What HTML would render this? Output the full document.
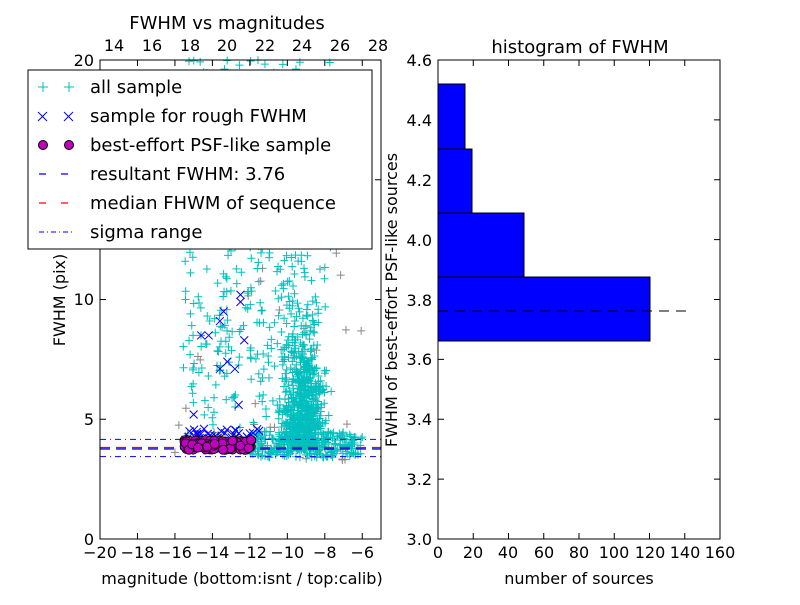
<!DOCTYPE html>
<html><head><meta charset="utf-8"><style>
body{margin:0;background:#fff}
svg{font-family:"DejaVu Sans","Liberation Sans",sans-serif}
</style></head><body>
<svg width="800" height="600" viewBox="0 0 800 600" xmlns="http://www.w3.org/2000/svg">
<rect width="800" height="600" fill="#fff"/>
<g id="pts"></g>
<rect x="100" y="60" width="281" height="479" fill="none" stroke="#000"/>
<g id="ticks"></g>
<text x="227" y="29" text-anchor="middle" font-size="18">FWHM vs magnitudes</text>
<g font-size="16" text-anchor="middle">
<text x="100" y="558">−20</text><text x="137.5" y="558">−18</text><text x="175" y="558">−16</text><text x="212.4" y="558">−14</text><text x="250" y="558">−12</text><text x="287.3" y="558">−10</text><text x="324.8" y="558">−8</text><text x="362.3" y="558">−6</text>
<text x="242" y="584">magnitude (bottom:isnt / top:calib)</text>
<text x="114" y="51">14</text><text x="152" y="51">16</text><text x="190" y="51">18</text><text x="227" y="51">20</text><text x="265" y="51">22</text><text x="302" y="51">24</text><text x="340" y="51">26</text><text x="378" y="51">28</text>
</g>
<g font-size="16" text-anchor="end">
<text x="94" y="545">0</text><text x="94" y="425">5</text><text x="94" y="305">10</text><text x="94" y="66">20</text>
</g>
<text transform="translate(65,300) rotate(-90)" font-size="16" text-anchor="middle">FWHM (pix)</text>
<rect x="28" y="70" width="344" height="179" fill="#fff" stroke="#000"/>
<g font-size="18">
<text x="90" y="93">all sample</text>
<text x="90" y="122">sample for rough FWHM</text>
<text x="90" y="151">best-effort PSF-like sample</text>
<text x="90" y="180">resultant FWHM: 3.76</text>
<text x="90" y="209">median FHWM of sequence</text>
<text x="90" y="238">sigma range</text>
</g>
<g stroke="#00bfbf"><path d="M38 87h10M43 82v10M64 87h10M69 82v10"/></g>
<g stroke="#0000ff"><path d="M38 112l9 9M47 112l-9 9M64 112l9 9M73 112l-9 9"/></g>
<circle cx="43" cy="145" r="4.5" fill="#bf00bf" stroke="#000"/><circle cx="69" cy="145" r="4.5" fill="#bf00bf" stroke="#000"/>
<line x1="39" y1="174" x2="75" y2="174" stroke="#0000ff" stroke-width="1.2" stroke-dasharray="7 15"/>
<line x1="39" y1="203" x2="75" y2="203" stroke="#ff0000" stroke-width="1.2" stroke-dasharray="7 15"/>
<line x1="39" y1="232" x2="75" y2="232" stroke="#0000ff" stroke-dasharray="5 3 1 3"/>
<text x="580" y="53" font-size="18" text-anchor="middle">histogram of FWHM</text>
<g fill="#0000ff" stroke="#000">
<rect x="438" y="84" width="27" height="65"/>
<rect x="438" y="149" width="34" height="64"/>
<rect x="438" y="213" width="86" height="64"/>
<rect x="438" y="277" width="212" height="64"/>
</g>
<line x1="438" y1="311" x2="693" y2="311" stroke="#000" stroke-dasharray="10 7"/>
<rect x="438" y="60" width="282" height="479" fill="none" stroke="#000"/>
<g font-size="16" text-anchor="middle">
<text x="438" y="558">0</text><text x="473" y="558">20</text><text x="508" y="558">40</text><text x="544" y="558">60</text><text x="579" y="558">80</text><text x="614" y="558">100</text><text x="650" y="558">120</text><text x="685" y="558">140</text><text x="720" y="558">160</text>
<text x="579" y="584">number of sources</text>
</g>
<g font-size="16" text-anchor="end">
<text x="432" y="66">4.6</text><text x="432" y="126">4.4</text><text x="432" y="186">4.2</text><text x="432" y="246">4.0</text><text x="432" y="306">3.8</text><text x="432" y="365">3.6</text><text x="432" y="425">3.4</text><text x="432" y="485">3.2</text><text x="432" y="545">3.0</text>
</g>
<text transform="translate(397,300) rotate(-90)" font-size="16" text-anchor="middle">FWHM of best-effort PSF-like sources</text>
</svg>
<script>
const g=document.getElementById('pts'),tk=document.getElementById('ticks');
let seed=7;function r(){seed=(seed*16807)%2147483647;return seed/2147483647;}
function n(){return (r()+r()+r()+r()-2)*1.7;}
const X=m=>100+(m+20)*281/15,Y=f=>539-f*23.95;
let h='';
for(let i=0;i<50;i++){let m=-16+r()*10,f=3+r()*9;if(r()<0.5)f=3.3+r()*1.5;let x=X(m),y=Y(f);h+=`<path d="M${x-4} ${y}h8M${x} ${y-4}v8" stroke="#888"/>`;}
function cp(m,f){let x=X(m),y=Y(f);if(y<60||x>379||x<102)return;h+=`<path d="M${x-4} ${y}h8M${x} ${y-4}v8" stroke="#00bfbf"/>`;}
for(let i=0;i<650;i++){let m=-9.2+n()*0.55,f=3.7+Math.abs(n())*2.3;cp(m,f);}
for(let i=0;i<250;i++){let m=-12+r()*6,f=3.4+r()*1.1;cp(m,f);}
for(let i=0;i<220;i++){let m=-15.6+r()*7,f=4+r()*9;cp(m,f);}
for(let i=0;i<160;i++){let m=-12+r()*4.5,f=9+r()*12;cp(m,f);}
for(let i=0;i<60;i++){let m=-15.5+r()*3.5,f=12+r()*8;cp(m,f);}
h+=`<line x1="100" y1="${Y(4.16)}" x2="381" y2="${Y(4.16)}" stroke="#0000ff" stroke-dasharray="6 4 1 4"/>`;
h+=`<line x1="100" y1="${Y(3.44)}" x2="381" y2="${Y(3.44)}" stroke="#0000ff" stroke-dasharray="6 4 1 4"/>`;
h+=`<line x1="100" y1="${Y(3.76)}" x2="381" y2="${Y(3.76)}" stroke="#0000ff" stroke-width="1.3" stroke-dasharray="10 6"/>`;
h+=`<line x1="100" y1="${Y(3.82)}" x2="381" y2="${Y(3.82)}" stroke="#ff0000" stroke-width="1.3" stroke-dasharray="10 6"/>`;
const bx=[[-14.2,8.5],[-13.6,9.1],[-13.4,9.5],[-12.5,9.9],[-12.5,10.2],[-12.3,8.3],[-13.2,7.4],[-12.8,7.1],[-13.6,7.1],[-12.6,5.6],[-15,5.2],[-13.1,12.6],[-14.6,8.5]];
for(let i=0;i<30;i++)bx.push([-15.5+r()*4,4.2+r()*0.4]);
for(const [m,f] of bx){let x=X(m),y=Y(f);h+=`<path d="M${x-4} ${y-4}l8 8M${x+4} ${y-4}l-8 8" stroke="#0000ff"/>`;}
for(let i=0;i<170;i++){let m=-15.5+r()*3.6,f=3.72+r()*0.42;h+=`<circle cx="${X(m)}" cy="${Y(f)}" r="4.5" fill="#bf00bf" stroke="#000" stroke-width="0.8"/>`;}
g.innerHTML=h;
let t='';
for(let m=-20;m<=-6;m+=2){let x=X(m);t+=`<path d="M${x} 539v-6M${x} 60v6" stroke="#000"/>`;}
for(let f of [0,5,10,15,20]){let y=Y(f);t+=`<path d="M100 ${y}h6M381 ${y}h-6" stroke="#000"/>`;}
for(let c=0;c<=160;c+=20){let x=438+c*282/160;t+=`<path d="M${x} 539v-6M${x} 60v6" stroke="#000"/>`;}
for(let v=0;v<=8;v++){let y=539-v*59.875;t+=`<path d="M438 ${y}h6M720 ${y}h-6" stroke="#000"/>`;}
tk.innerHTML=t;
</script>
</body></html>
